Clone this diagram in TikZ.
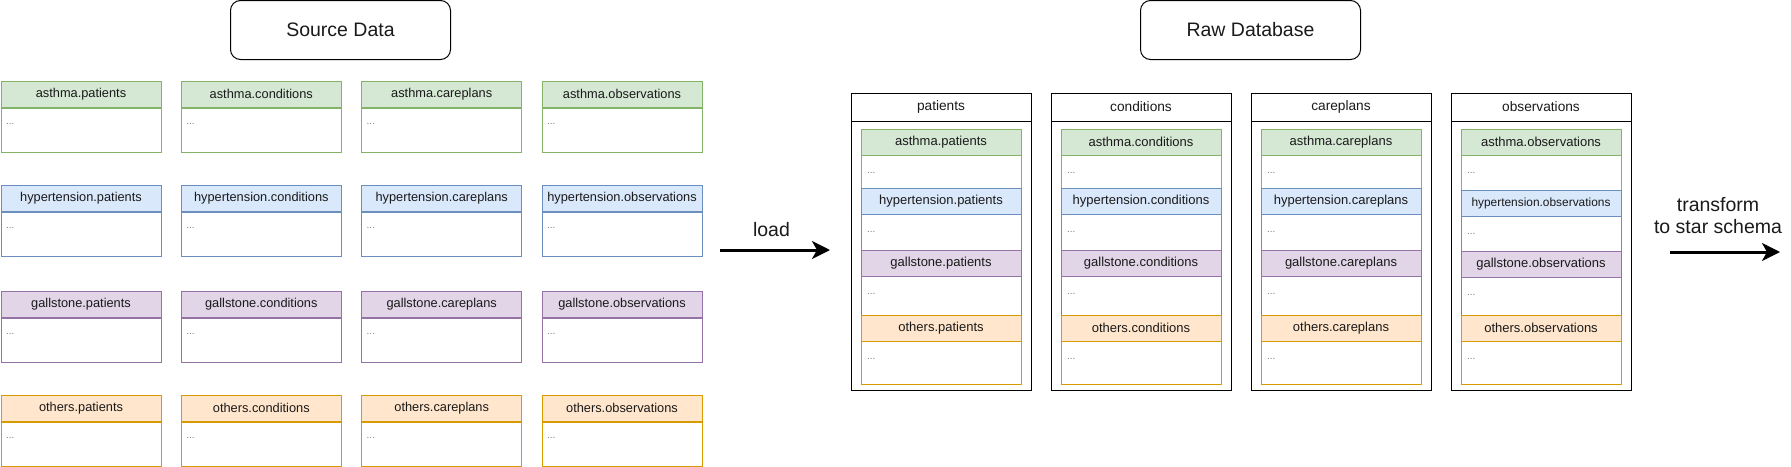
\documentclass[tikz,border=0pt]{standalone}
\usepackage{fontspec}
\setmainfont{Liberation Sans}
\usetikzlibrary{arrows.meta}
\definecolor{gfill}{HTML}{D5E8D4}\definecolor{gline}{HTML}{82B366}
\definecolor{bfill}{HTML}{DAE8FC}\definecolor{bline}{HTML}{6C8EBF}
\definecolor{pfill}{HTML}{E1D5E7}\definecolor{pline}{HTML}{9673A6}
\definecolor{ofill}{HTML}{FFE6CC}\definecolor{oline}{HTML}{D79B00}
\definecolor{txt}{HTML}{1A1A1A}
\definecolor{dotc}{HTML}{808080}
\begin{document}
\begin{tikzpicture}[x=1pt,y=-1pt,line width=1pt,
  title/.style={draw=black, rounded corners=10pt, minimum width=220pt, minimum height=59pt, inner sep=0pt, font=\fontsize{19.5}{23}\selectfont, text=txt},
  hdr/.style={minimum width=160pt, minimum height=26pt, inner sep=0pt, anchor=north west, text=txt},
  bodybox/.style={fill=white, minimum width=160pt, inner sep=0pt, anchor=north west},
  dots/.style={font=\fontsize{10}{12}\selectfont, text=dotc, anchor=base west, inner sep=0pt},
  cont/.style={draw=black, fill=white, minimum width=180pt, minimum height=297.5pt, inner sep=0pt, anchor=north west},
  conthdr/.style={draw=black, minimum width=180pt, minimum height=28pt, inner sep=0pt, anchor=north west, font=\fontsize{13.7}{16}\selectfont, text=txt},
  bigarrow/.style={line width=3pt, -{Stealth[length=18pt,width=18pt,inset=5pt]}},
  lbl/.style={font=\fontsize{19.5}{22}\selectfont, text=txt, align=center, inner sep=0pt}
]
\useasboundingbox (0,0) rectangle (1791,466);

% titles
\node[title] (srctitle) at (340.5,30) {Source Data};
\node[title] (rawtitle) at (1250.5,30) {Raw Database};

% source tables
\foreach \pre/\col/\y [count=\r] in {asthma/g/80.5, hypertension/b/184.5, gallstone/p/290.5, others/o/394.5}{
  \foreach \tab/\x [count=\c] in {patients/0.5, conditions/180.8, careplans/361.2, observations/541.5}{
    \node[hdr, draw=\col line, fill=\col fill, font=\fontsize{12.8}{15}\selectfont] (s-\r-\c) at (\x,\y) {\pre.\tab};
    \node[bodybox, draw=\col line, minimum height=44pt] (sb-\r-\c) at (s-\r-\c.south west) {};
    \node[dots] (sd-\r-\c) at ([shift={(5,16.5)}]sb-\r-\c.north west) {...};
  }
}

% load arrow
\coordinate (loadS) at (720,250);
\coordinate (loadE) at (830,250);
\draw[bigarrow] (loadS) -- (loadE);
\node[lbl] (loadlbl) at (771.5,230) {load};

% raw database containers
\foreach \tab/\x [count=\c] in {patients/850.5, conditions/1050.5, careplans/1250.5, observations/1450.5}{
  \node[cont] (c-\c) at (\x,92.5) {};
  \node[conthdr] (ch-\c) at (\x,92.5) {\tab};
}
% inner tables: patients, conditions, careplans
\foreach \tab/\x [count=\c] in {patients/860.5, conditions/1060.5, careplans/1260.5}{
  \foreach \pre/\col/\y/\h [count=\r] in {asthma/g/128.5/33.5, hypertension/b/188/36, gallstone/p/250/38.5, others/o/314.5/43.5}{
    \node[bodybox, draw=\col line, minimum height=26pt+\h pt] (rb-\c-\r) at (\x,\y) {};
    \node[hdr, draw=\col line, fill=\col fill, font=\fontsize{13}{15}\selectfont] (r-\c-\r) at (\x,\y) {\pre.\tab};
    \node[dots] (rd-\c-\r) at ([shift={(6,17.5)}]r-\c-\r.south west) {...};
  }
}
% inner tables: observations
\foreach \pre/\col/\y/\h/\fs [count=\r] in {asthma/g/128.5/35.5/13, hypertension/b/190/34.5/11.9, gallstone/p/250.5/38/13, others/o/314.5/43.5/13}{
  \node[bodybox, draw=\col line, minimum height=26pt+\h pt] (rb-4-\r) at (1460.5,\y) {};
  \node[hdr, draw=\col line, fill=\col fill, font=\fontsize{\fs}{15}\selectfont] (r-4-\r) at (1460.5,\y) {\pre.observations};
  \node[dots] (rd-4-\r) at ([shift={(6,17.5)}]r-4-\r.south west) {...};
}

% transform arrow
\coordinate (trS) at (1670,252);
\coordinate (trE) at (1780,252);
\draw[bigarrow] (trS) -- (trE);
\node[lbl] (trlbl) at (1718,216) {transform\\ to star schema};
\end{tikzpicture}
\end{document}
